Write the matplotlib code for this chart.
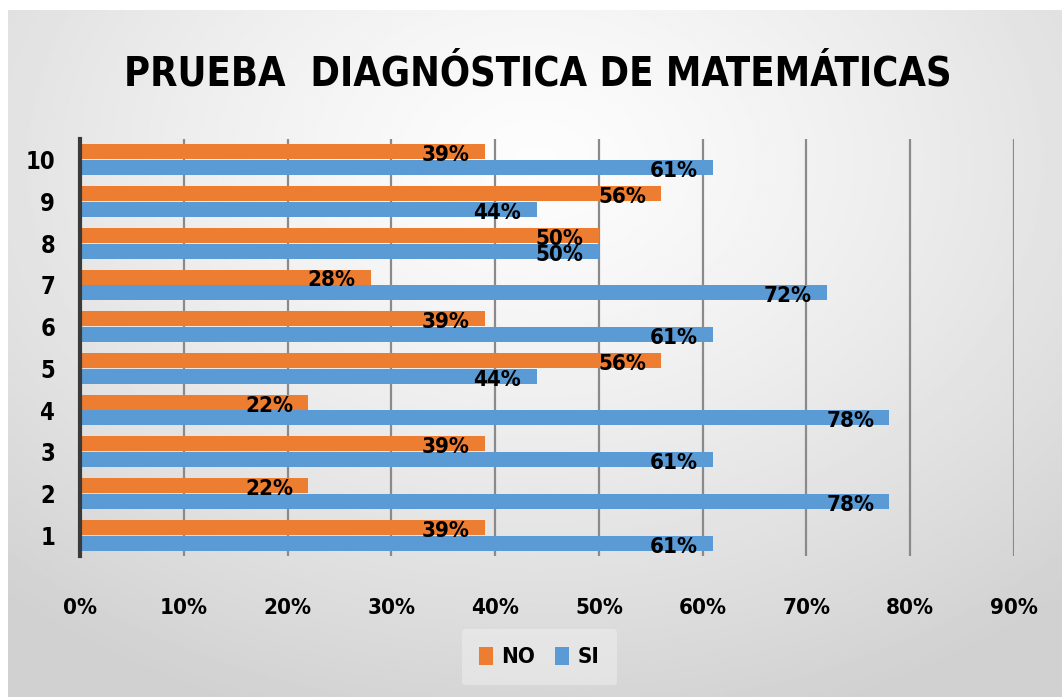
import numpy as np
import matplotlib
matplotlib.use("Agg")
import matplotlib.pyplot as plt
from matplotlib.ticker import PercentFormatter

# datos de la prueba diagnostica
preguntas = [1, 2, 3, 4, 5, 6, 7, 8, 9, 10]
si = [0.61, 0.78, 0.61, 0.78, 0.44, 0.61, 0.72, 0.50, 0.44, 0.61]
no = [0.39, 0.22, 0.39, 0.22, 0.56, 0.39, 0.28, 0.50, 0.56, 0.39]
ticks_x = [0, 0.1, 0.2, 0.3, 0.4, 0.5, 0.6, 0.7, 0.8, 0.9]

naranja = "#ED7D31"
azul = "#5B9BD5"
plt.rcParams['font.family'] = ['DejaVu Sans']
plt.rcParams['font.stretch'] = 'condensed'
plt.rcParams['font.weight'] = 'bold'

fig = plt.figure(figsize=(10.62, 6.97), dpi=100)

# fondo con degradado radial (claro en el centro, gris en los bordes)
bg = fig.add_axes([8 / 1062, 0, 1 - 8 / 1062, 1 - 10 / 697], zorder=-10)
yy, xx = np.mgrid[0:1:300j, 0:1:450j]
r = np.sqrt(((xx - 0.5) / 0.75) ** 2 + ((yy - 0.22) / 0.85) ** 2)
r = np.clip(r, 0, 1)
bg.imshow(0.99 - 0.17 * r ** 1.3, cmap='gray', vmin=0, vmax=1,
          aspect='auto', extent=[0, 1, 1, 0])
bg.set_axis_off()

ax = fig.add_axes([80 / 1062, 1 - 556 / 697, (1014 - 80) / 1062, (556 - 139) / 697])
ax.patch.set_alpha(0)

y = np.array(preguntas)
h = 0.36
b_no = ax.barh(y + 0.19, no, height=h, color=naranja, label='NO', zorder=3)
b_si = ax.barh(y - 0.19, si, height=h, color=azul, label='SI', zorder=3)

for bars, vals in [(b_no, no), (b_si, si)]:
    for rect, v in zip(bars, vals):
        ax.annotate(f"{v:.0%}", (v, rect.get_y() + rect.get_height() / 2),
                    xytext=(-11, -2.5), textcoords='offset points',
                    ha='right', va='center', fontsize=16, fontweight='bold',
                    color='black', zorder=4)

ax.set_xlim(0, 0.9)
ax.set_ylim(0.5, 10.5)
ax.set_xticks(ticks_x)
ax.xaxis.set_major_formatter(PercentFormatter(1.0, decimals=0))
ax.set_yticks(preguntas)
ax.tick_params(length=0, labelsize=16)
ax.tick_params(axis='x', pad=30)
ax.tick_params(axis='y', labelsize=17, pad=18)
for lab in ax.get_xticklabels() + ax.get_yticklabels():
    lab.set_fontweight('bold')
ax.grid(axis='x', color='#8a8a8a', linewidth=1.6, zorder=0)
for s in ['top', 'right', 'bottom']:
    ax.spines[s].set_visible(False)
ax.spines['left'].set_color('#3a3a3a')
ax.spines['left'].set_linewidth(3)
ax.spines['left'].set_zorder(5)

fig.text(0.506, 1 - 75 / 697, "PRUEBA  DIAGNÓSTICA DE MATEMÁTICAS",
         ha='center', va='center', fontsize=28.5, fontweight='bold')

leg = fig.legend(handles=[b_no, b_si], loc='center', bbox_to_anchor=(0.508, 1 - 657 / 697),
                 ncol=2, frameon=True, fontsize=16, handlelength=0.6, handleheight=0.9,
                 handletextpad=0.4, columnspacing=0.9, borderpad=0.8)
leg.get_frame().set_facecolor('#f0f0f0')
leg.get_frame().set_edgecolor('none')
leg.get_frame().set_alpha(0.5)
for t in leg.get_texts():
    t.set_fontweight('bold')

fig.savefig("out.png", dpi=100, facecolor='white')
